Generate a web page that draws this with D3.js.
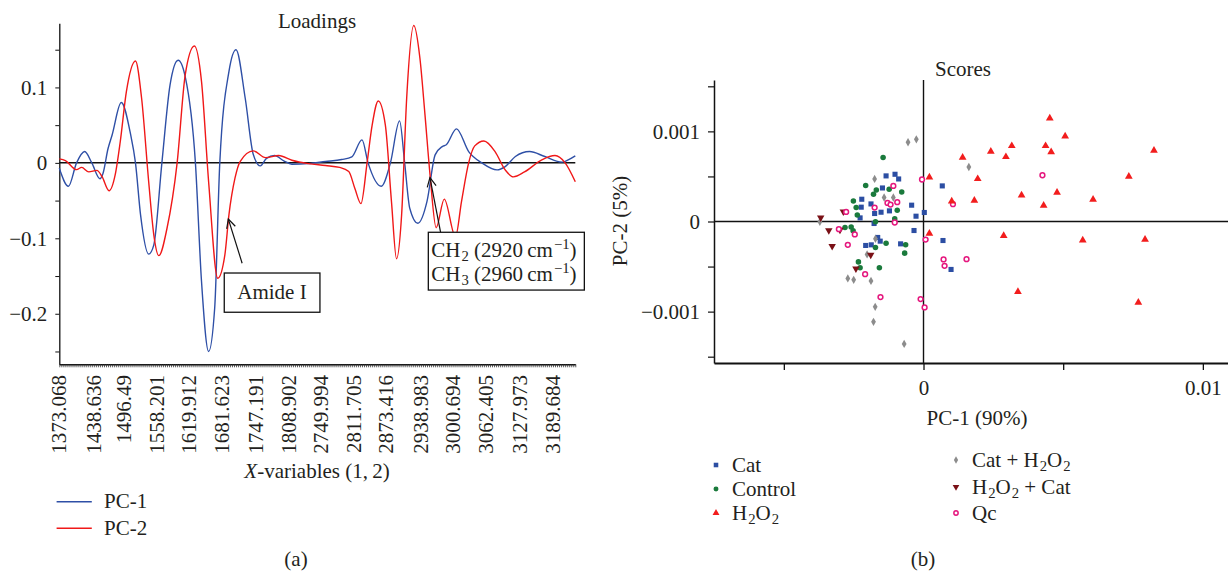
<!DOCTYPE html>
<html>
<head>
<meta charset="utf-8">
<script src="https://cdn.jsdelivr.net/npm/d3@7"></script>
<style>
  body { margin: 0; background: #fff; }
  svg text { font-family: "Liberation Serif", "Times New Roman", serif; fill: #231f20; }
</style>
</head>
<body>
<div id="chart"></div>
<script>
// ---- data: loadings (variable index, loading) ----
var varTicks = [0, 34, 64, 96, 128, 160, 194, 226, 258, 290, 322, 356, 388, 420, 454, 486];
var varLabels = ["1373.068", "1438.636", "1496.49", "1558.201", "1619.912", "1681.623", "1747.191", "1808.902",
  "2749.994", "2811.705", "2873.416", "2938.983", "3000.694", "3062.405", "3127.973", "3189.684"];

var pc1 = [[0,-0.007],[9,-0.031],[17,0],[25,0.015],[32,0],[40,-0.021],[43,-0.014],[48,0.019],[52,0.037],
  [61,0.080],[70,0.039],[75,0],[80,-0.069],[88,-0.121],[93,-0.109],[101,0],[109,0.103],[117,0.136],[124,0.114],
  [134,0],[140,-0.157],[147,-0.250],[153,-0.192],[158,0],[167,0.121],[174,0.150],[183,0.086],[191,0.011],
  [198,-0.004],[204,0.006],[212,0.0097],[221,0.0026],[229,-0.0018],[245,-0.001],[262,0.0018],[278,0.0044],
  [288,0.008],[298,0.0305],[304,0],[317,-0.031],[326,0],[335,0.0556],[340,0],[345,-0.060],[353,-0.080],
  [362,-0.051],[370,0.0106],[377,0.0216],[381,0.024],[391,0.045],[403,0.015],[416,0],[431,-0.0093],
  [439,-0.005],[449,0.0084],[463,0.015],[478,0.0084],[495,0.001],[501,0.004],[508,0.0093]];

var pc2 = [[0,0.0053],[6,0.003],[17,-0.009],[22,-0.006],[29,-0.012],[37,-0.010],[42,-0.018],[49,-0.037],
  [55,-0.016],[60,0.028],[66,0.094],[75,0.135],[81,0.086],[88,-0.025],[93,-0.095],[98,-0.123],[106,-0.087],
  [116,0],[124,0.117],[133,0.155],[140,0.108],[147,-0.025],[156,-0.153],[163,-0.122],[167,-0.069],[173,-0.020],
  [178,0.0018],[191,0.0159],[203,0.007],[216,0.0097],[229,0.0035],[245,-0.001],[262,-0.0035],[276,-0.006],
  [285,-0.0115],[291,-0.034],[297,-0.054],[303,0],[308,0.050],[314,0.082],[321,0.050],[327,-0.051],
  [332,-0.127],[337,-0.069],[342,0.086],[349,0.182],[355,0.139],[360,0.064],[365,-0.016],[371,-0.086],
  [379,-0.048],[390,-0.098],[396,-0.051],[403,0],[409,0.0225],[418,0.029],[429,0.015],[439,-0.0093],
  [447,-0.0185],[458,-0.012],[475,0.004],[488,0.0097],[498,0],[508,-0.025]];

// ---- data: scores (PC-1, PC-2) ----
var cat = [[-0.00134,0.000506],[-0.00102,0.000524],[-0.00089,0.000472],[-0.00147,0.000372],[-0.00221,0.000247],
  [-0.00188,0.000195],[-0.00223,0.000159],[-0.000425,0.000181],[-0.00122,0.000118],[-0.00152,0.000103],
  [-0.00175,0.0000887],[-0.000268,0.0000588],[0.0000286,0.0001],[0.000672,0.000395],[-0.00227,0.00004],
  [-0.00177,-0.000022],[-0.00034,-0.0001],[-0.00164,-0.000177],[-0.00155,-0.000218],[-0.00207,-0.000266],
  [-0.00187,-0.000259],[-0.00082,-0.000248],[0.000697,-0.000211],[0.000986,-0.000532]];

var control = [[-0.001447,0.00071],[-0.00207,0.000399],[-0.00169,0.00035],[-0.00179,0.000303],[-0.00123,0.000358],
  [-0.00078,0.000328],[-0.00251,0.000228],[-0.00241,0.000155],[-0.00094,0.000125],[-0.00237,0.000073],
  [-0.00103,0.000029],[-0.00172,-0.000004],[-0.00281,-0.000067],[-0.00259,-0.00006],[-0.00252,-0.000104],
  [-0.00134,-0.000241],[-0.00064,-0.000259],[-0.00172,-0.000288],[-0.000675,-0.000351],[-0.00233,-0.000448],
  [-0.00227,-0.000514],[-0.00158,-0.000514]];

var h2o2 = [[0.00452,0.001146],[0.00507,0.000946],[0.00316,0.000839],[0.00241,0.000776],[0.00295,0.000717],
  [0.0014,0.00071],[0.00437,0.000839],[0.00457,0.000772],[0.00825,0.000787],[0.00021,0.000492],
  [0.00194,0.000473],[0.00735,0.000499],[0.00351,0.000292],[0.00478,0.000322],[0.00607,0.000244],
  [0.00182,0.000233],[0.00101,0.000225],[0.0043,0.000177],[0.00021,-0.000133],[0.00287,-0.000159],
  [0.0057,-0.000207],[0.00793,-0.0002],[0.00338,-0.00078],[0.00769,-0.000898]];

var catH2o2 = [[-0.000554,0.000879],[-0.000257,0.000912],[0.001623,0.000605],[-0.00175,0.000472],[-0.00141,0.000266],
  [-0.00108,0.000266],[-0.00371,-0.000004],[-0.00172,-0.000191],[-0.00202,-0.000365],[-0.00271,-0.000632],
  [-0.0025,-0.000647],[-0.00188,-0.000659],[-0.00173,-0.000947],[-0.00179,-0.001113],[-0.000693,-0.001358]];

var h2o2Cat = [[-0.00368,0.000042],[-0.00287,0.000109],[-0.00339,-0.000099],[-0.00299,-0.000093],
  [-0.00327,-0.000274],[-0.00189,-0.000371],[-0.00242,-0.000523]];

var qc = [[-0.000054,0.000466],[-0.00108,0.000395],[-0.00129,0.000206],[-0.00118,0.000188],[-0.00094,0.000214],
  [-0.00175,0.000155],[-0.00277,0.000106],[-0.00103,-0.000011],[-0.00303,-0.000085],[-0.00246,-0.000144],
  [-0.00271,-0.000259],[0.000075,-0.0002],[0.000718,-0.000421],[0.000754,-0.000492],[0.00154,-0.000418],
  [-0.00209,-0.000584],[-0.00154,-0.000839],[-0.000104,-0.000861],[0.000039,-0.000953],[0.004257,0.000513],
  [0.001054,0.000192]];

var groups = [
  { name: [["Cat"]], data: cat, shape: d3.symbolSquare, size: 26, color: "#2c4ea3", fill: true, col: 0, row: 0 },
  { name: [["Control"]], data: control, shape: d3.symbolCircle, size: 24, color: "#1a7a3c", fill: true, col: 0, row: 1 },
  { name: [["Cat + H"], ["2", "sub"], ["O"], ["2", "sub"]], data: catH2o2, shape: d3.symbolDiamond, size: 20, color: "#8c8c8c", fill: true, col: 1, row: 0 },
  { name: [["H"], ["2", "sub"], ["O"], ["2", "sub"], [" + Cat"]], data: h2o2Cat, shape: d3.symbolTriangle, size: 24, color: "#7a1016", fill: true, col: 1, row: 1, flip: true },
  { name: [["Qc"]], data: qc, shape: d3.symbolCircle, size: 18, color: "#e5177e", fill: false, col: 1, row: 2 },
  { name: [["H"], ["2", "sub"], ["O"], ["2", "sub"]], data: h2o2, shape: d3.symbolTriangle, size: 26, color: "#f21d1d", fill: true, col: 0, row: 2 }
];

var FS = 21;

var svg = d3.select("#chart").append("svg")
  .attr("width", 1228)
  .attr("height", 573);

svg.append("defs").append("marker")
  .attr("id", "arrow")
  .attr("markerUnits", "userSpaceOnUse")
  .attr("viewBox", "-10 -6 12 12")
  .attr("markerWidth", 12).attr("markerHeight", 12)
  .attr("refX", 0).attr("refY", 0)
  .attr("orient", "auto")
  .append("path")
  .attr("d", "M-9,-4.5L0,0L-9,4.5")
  .attr("fill", "none").attr("stroke", "#111").attr("stroke-width", 1.2);

// writes text with sub / superscripts and italics
function rich(text, parts) {
  var shift = 0;
  parts.forEach(function(p) {
    var s = p[1] === "sub" ? 4 : p[1] === "sup" ? -8 : 0;
    var t = text.append("tspan").text(p[0]).attr("dy", s - shift);
    if (p[1] === "sub" || p[1] === "sup") t.attr("font-size", "70%").attr("dx", 1);
    if (p[1] === "it") t.attr("font-style", "italic");
    shift = s;
  });
}

// ================= (a) Loadings =================
var xL = d3.scaleLinear().domain([0, 508]).range([59.3, 575.3]);
var yL = d3.scaleLinear().domain([-0.267, 0.185]).range([364.3, 23.3]);

var left = svg.append("g");

left.append("g")
  .attr("transform", "translate(0,364.3)")
  .call(d3.axisBottom(xL).tickValues(d3.range(0, 509, 2)).tickSize(3).tickSizeOuter(0).tickFormat(""))
  .call(function(g) {
    g.select(".domain").attr("stroke", "#111").attr("stroke-width", 1.6);
    g.selectAll(".tick line").attr("stroke", "#333").attr("stroke-width", 0.8);
  });

left.append("g")
  .attr("transform", "translate(59.3,0)")
  .call(d3.axisLeft(yL)
    .tickValues([-0.25, -0.2, -0.15, -0.1, -0.05, 0, 0.05, 0.1, 0.15])
    .tickSize(4).tickSizeOuter(0).tickPadding(8)
    .tickFormat(function(d) {
      var k = Math.round(d * 100);
      if (k % 10 !== 0) return "";
      return k === 0 ? "0" : (k < 0 ? "\u2212" : "") + Math.abs(d);
    }))
  .call(function(g) {
    g.select(".domain").attr("stroke", "#111").attr("stroke-width", 1.3);
    g.selectAll(".tick line").attr("stroke", "#111");
    g.selectAll(".tick text").attr("font-size", FS).attr("fill", "#231f20");
  });

left.selectAll(".varlab")
  .data(varTicks)
  .enter().append("text")
  .attr("class", "varlab")
  .attr("transform", function(d) { return "translate(" + (xL(d) + 7) + ",375) rotate(-90)"; })
  .attr("text-anchor", "end")
  .attr("font-size", FS)
  .text(function(d, i) { return varLabels[i]; });

left.append("line")
  .attr("x1", xL(0)).attr("x2", xL(508))
  .attr("y1", yL(0)).attr("y2", yL(0))
  .attr("stroke", "#111").attr("stroke-width", 1.5);

var line = d3.line()
  .x(function(d) { return xL(d[0]); })
  .y(function(d) { return yL(d[1]); })
  .curve(d3.curveMonotoneX);

left.append("path").datum(pc1)
  .attr("d", line).attr("fill", "none").attr("stroke", "#2e4fa6").attr("stroke-width", 1.4);
left.append("path").datum(pc2)
  .attr("d", line).attr("fill", "none").attr("stroke", "#f01818").attr("stroke-width", 1.4);

left.append("text")
  .attr("x", 317).attr("y", 28)
  .attr("text-anchor", "middle").attr("font-size", FS)
  .text("Loadings");

// Amide I annotation
left.append("line")
  .attr("x1", xL(180)).attr("y1", yL(-0.133))
  .attr("x2", xL(166.4)).attr("y2", yL(-0.0744))
  .attr("stroke", "#111").attr("stroke-width", 1.2)
  .attr("marker-end", "url(#arrow)");
left.append("rect")
  .attr("x", xL(162.4)).attr("y", yL(-0.146))
  .attr("width", xL(256.6) - xL(162.4)).attr("height", yL(-0.198) - yL(-0.146))
  .attr("fill", "#fff").attr("stroke", "#111").attr("stroke-width", 1.3);
left.append("text")
  .attr("x", xL(209.4)).attr("y", yL(-0.180))
  .attr("text-anchor", "middle").attr("font-size", FS)
  .text("Amide I");

// CH2 / CH3 annotation
left.append("line")
  .attr("x1", xL(376.4)).attr("y1", yL(-0.0992))
  .attr("x2", xL(364.9)).attr("y2", yL(-0.0196))
  .attr("stroke", "#111").attr("stroke-width", 1.2)
  .attr("marker-end", "url(#arrow)");
left.append("rect")
  .attr("x", xL(363.3)).attr("y", yL(-0.092))
  .attr("width", xL(516.9) - xL(363.3)).attr("height", yL(-0.1686) - yL(-0.092))
  .attr("fill", "#fff").attr("stroke", "#111").attr("stroke-width", 1.3);
rich(left.append("text").attr("x", xL(366.2)).attr("y", yL(-0.1244)).attr("font-size", FS),
  [["CH"], ["2", "sub"], [" (2920\u2009cm"], ["\u22121", "sup"], [")"]]);
rich(left.append("text").attr("x", xL(366.2)).attr("y", yL(-0.1566)).attr("font-size", FS),
  [["CH"], ["3", "sub"], [" (2960\u2009cm"], ["\u22121", "sup"], [")"]]);

rich(left.append("text").attr("x", 317).attr("y", 478).attr("text-anchor", "middle").attr("font-size", FS),
  [["X", "it"], ["-variables (1,\u20092)"]]);

var lineLegend = [{ name: "PC-1", color: "#2e4fa6" }, { name: "PC-2", color: "#f01818" }];
var ll = left.selectAll(".ll").data(lineLegend).enter().append("g")
  .attr("transform", function(d, i) { return "translate(0," + (501.7 + i * 26.6) + ")"; });
ll.append("line").attr("x1", 56.6).attr("x2", 91.8)
  .attr("stroke", function(d) { return d.color; }).attr("stroke-width", 1.4);
ll.append("text").attr("x", 104).attr("y", 6.5).attr("font-size", FS)
  .text(function(d) { return d.name; });

left.append("text").attr("x", 296).attr("y", 566).attr("text-anchor", "middle").attr("font-size", FS).text("(a)");

// ================= (b) Scores =================
var xR = d3.scaleLinear().domain([-0.0075, 0.0109]).range([714, 1228]);
var yR = d3.scaleLinear().domain([-0.00157, 0.00157]).range([363, 80]);

var right = svg.append("g");

right.append("g")
  .attr("transform", "translate(0,363)")
  .call(d3.axisBottom(xR).tickValues([-0.005, 0, 0.005, 0.01]).tickSize(7).tickSizeOuter(0).tickPadding(10)
    .tickFormat(function(d) { return d === 0 ? "0" : d === 0.01 ? "0.01" : ""; }))
  .call(function(g) {
    g.select(".domain").attr("stroke", "#111").attr("stroke-width", 2);
    g.selectAll(".tick line").attr("stroke", "#111").attr("stroke-width", 1.3);
    g.selectAll(".tick text").attr("font-size", FS).attr("fill", "#231f20");
  });

right.append("g")
  .attr("transform", "translate(714,0)")
  .call(d3.axisLeft(yR).tickValues([-0.0015, -0.001, -0.0005, 0, 0.0005, 0.001, 0.0015]).tickSize(6).tickSizeOuter(0).tickPadding(8)
    .tickFormat(function(d) {
      if (d === 0) return "0";
      if (d === 0.001) return "0.001";
      if (d === -0.001) return "\u22120.001";
      return "";
    }))
  .call(function(g) {
    g.select(".domain").attr("stroke", "#111").attr("stroke-width", 1.5);
    g.selectAll(".tick line").attr("stroke", "#111").attr("stroke-width", 1.2);
    g.selectAll(".tick text").attr("font-size", FS).attr("fill", "#231f20");
  });

right.append("line")
  .attr("x1", xR.range()[0]).attr("x2", xR.range()[1])
  .attr("y1", yR(0)).attr("y2", yR(0))
  .attr("stroke", "#111").attr("stroke-width", 1.4);
right.append("line")
  .attr("x1", xR(0)).attr("x2", xR(0))
  .attr("y1", yR.range()[0]).attr("y2", yR.range()[1])
  .attr("stroke", "#111").attr("stroke-width", 1.4);

function marker(g, grp, scale) {
  g.attr("d", d3.symbol().type(grp.shape).size(grp.size * (scale || 1)))
    .attr("fill", grp.fill ? grp.color : "#fff")
    .attr("stroke", grp.fill ? "none" : grp.color)
    .attr("stroke-width", grp.fill ? 0 : 1.5);
}

groups.forEach(function(grp) {
  right.append("g").selectAll("path")
    .data(grp.data)
    .enter().append("path")
    .attr("transform", function(d) {
      return "translate(" + xR(d[0]) + "," + yR(d[1]) + ")" + (grp.flip ? " rotate(180)" : "");
    })
    .call(marker, grp);
});

right.append("text")
  .attr("x", 963).attr("y", 76)
  .attr("text-anchor", "middle").attr("font-size", FS)
  .text("Scores");

right.append("text")
  .attr("transform", "translate(627,221) rotate(-90)")
  .attr("text-anchor", "middle").attr("font-size", FS)
  .text("PC-2 (5%)");

right.append("text")
  .attr("x", 977).attr("y", 425)
  .attr("text-anchor", "middle").attr("font-size", FS)
  .text("PC-1 (90%)");

var legCols = [716, 956];
var legRows = [[472, 496, 520], [467, 494, 520]];
groups.forEach(function(grp) {
  var g = right.append("g")
    .attr("transform", "translate(" + legCols[grp.col] + "," + legRows[grp.col][grp.row] + ")");
  g.append("path")
    .attr("transform", "translate(0,-7)" + (grp.flip ? " rotate(180)" : ""))
    .call(marker, grp, 0.8);
  rich(g.append("text").attr("x", 16).attr("font-size", FS), grp.name);
});

right.append("text").attr("x", 923).attr("y", 566).attr("text-anchor", "middle").attr("font-size", FS).text("(b)");
</script>
</body>
</html>
